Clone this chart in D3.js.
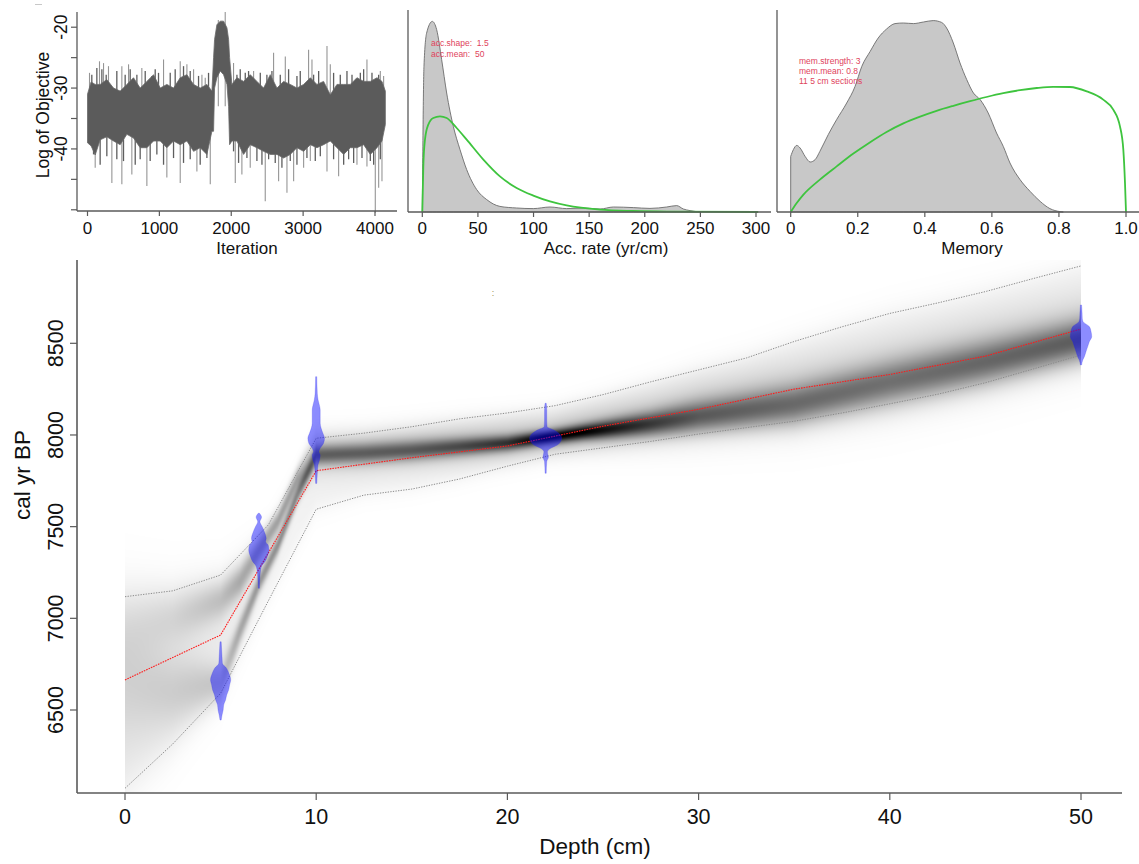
<!DOCTYPE html>
<html><head><meta charset="utf-8">
<script src="https://cdn.jsdelivr.net/npm/d3@7"></script>
<style>
body{margin:0;background:#fff}
svg{display:block}
text{font-family:"Liberation Sans",Arial,Helvetica,sans-serif;fill:#111}
</style></head>
<body><svg id="c" width="1139" height="864"></svg>
<script>
// ---------------- DATA ----------------
// MCMC trace: dense core band (iteration, upper, lower), edge jags and isolated spikes
const traceIter = [0,50,107,176,269,362,455,548,640,733,826,919,1012,1104,1197,1290,1383,1476,1568,1661,1731,1754,1768,1800,1847,1893,1940,1963,1977,2009,2079,2172,2264,2357,2450,2543,2636,2728,2821,2914,3007,3100,3192,3285,3378,3471,3564,3656,3749,3842,3935,4028,4097,4144];
const traceHi = [-31.0,-29.0,-29.4,-29.4,-28.6,-30.0,-30.5,-29.4,-28.3,-30.0,-28.9,-27.8,-30.0,-29.4,-30.0,-28.3,-27.8,-29.4,-30.0,-29.4,-30.5,-25.0,-22.0,-19.6,-19.0,-19.0,-20.1,-22.0,-25.0,-29.4,-28.3,-28.9,-27.8,-28.9,-30.0,-27.8,-30.0,-28.9,-29.4,-30.0,-29.4,-28.3,-29.4,-28.9,-31.1,-29.4,-29.4,-29.4,-28.3,-28.9,-28.9,-28.3,-28.9,-30.5];
const traceLo = [-39.0,-39.5,-41.0,-38.5,-38.0,-38.7,-39.3,-37.6,-38.2,-39.8,-39.8,-38.7,-38.7,-39.8,-38.7,-39.3,-38.7,-40.4,-39.8,-40.9,-37.1,-37.1,-30.0,-28.3,-27.2,-27.8,-29.4,-33.0,-39.3,-38.7,-38.7,-40.9,-39.3,-39.8,-40.4,-40.9,-40.9,-41.5,-40.9,-39.8,-40.4,-39.3,-39.8,-39.3,-38.7,-39.8,-40.9,-39.8,-39.8,-39.3,-40.9,-39.8,-38.7,-36.0];
const jagUpIter = [60,130,200,260,408,524,594,687,803,896,942,988,1151,1220,1336,1429,1545,1684,2079,2125,2195,2241,2404,2496,2566,2682,2798,2914,2960,3146,3216,3424,3517,3610,3680,3796,3842,3958,4051];
const jagUpVal  = [-27.8,-26.7,-26.9,-27.8,-27.2,-27.8,-26.9,-27.8,-27.2,-28.0,-26.9,-27.5,-27.5,-26.9,-26.4,-27.2,-28.0,-27.5,-27.8,-26.9,-27.5,-27.2,-27.5,-27.8,-27.2,-27.8,-26.9,-28.0,-27.2,-27.8,-27.2,-27.5,-27.8,-27.2,-27.8,-27.5,-26.9,-27.5,-27.8];
const jagDownIter = [84,176,269,408,501,664,733,872,965,1058,1197,1336,1429,1568,1661,2032,2102,2218,2357,2427,2520,2612,2705,2821,2914,3053,3169,3239,3424,3564,3633,3703,3819,3935,3981,4074];
const jagDownVal  = [-40.9,-42.6,-41.2,-41.7,-42.0,-42.6,-41.7,-42.0,-40.9,-42.6,-41.5,-42.3,-41.7,-42.6,-41.5,-40.4,-42.3,-41.5,-42.0,-42.6,-41.7,-42.3,-43.1,-42.0,-42.6,-41.5,-42.0,-41.2,-41.7,-42.6,-41.7,-42.3,-41.5,-42.0,-42.6,-41.7];
const spikeUpIter = [28,167,223,292,478,571,756,1058,1290,1383,1476,1592,1638,1820,1916,2032,2311,2589,2752,3076,3123,3332,3378,3888,4004,4074,4120];
const spikeUpVal  = [-27.5,-25.6,-25.9,-26.4,-26.4,-26.1,-26.7,-25.3,-25.6,-26.1,-26.9,-27.8,-28.3,-18.8,-17.5,-25.9,-27.2,-24.2,-24.8,-23.7,-25.3,-23.1,-26.1,-25.3,-28.9,-27.2,-28.0];
const spikeDownIter = [107,339,478,617,826,1104,1290,1522,1708,2056,2148,2264,2473,2659,2775,2868,3007,3100,3332,3494,3749,3888,4004,4051,4097];
const spikeDownVal  = [-43.1,-45.6,-45.8,-44.2,-46.1,-44.7,-45.6,-43.7,-45.8,-45.6,-44.2,-43.1,-48.6,-45.3,-47.2,-45.3,-43.1,-42.0,-43.7,-44.5,-42.6,-42.9,-50.5,-46.4,-45.3];
const iterTicks = [0,1000,2000,3000,4000];
const objTicks = [-20,-25,-30,-35,-40,-45,-50];
const objLabels = [-20,-30,-40];

// Accumulation rate: posterior (grey) and prior (green), relative density
const accRate = [0,1.5,3.9,9,12.9,17.4,21.9,27.9,33.9,39.9,48.9,57.9,69.8,84.8,99.8,114.8,129.8,144.8,159.8,171.8,189.7,204.7,219.7,228.7,234.7,240.7,249.7];
const accPost = [0,72.8,89.5,95.3,91.2,76.2,59.5,42.8,31.2,21.2,11.2,6.2,2.8,2.0,1.7,2.5,1.7,2.0,1.5,2.5,2.2,1.8,2.5,3.2,1.5,0.7,0];
const accPriorRate = [0,0.9,2.4,5.4,9.9,15.9,21.9,30.9,39.9,54.9,69.8,84.8,99.8,114.8,129.8,159.8,189.7,219.7,302];
const accPrior = [0,22.8,36.2,43.7,47.0,47.8,47.0,42.0,36.2,26.2,17.8,12.0,8.2,5.3,3.3,1.2,0.5,0.2,0];
const accTicks = [0,50,100,150,200,250,300];
const accNotes = ["acc.shape:  1.5","acc.mean:  50"];

// Memory: posterior (grey) and prior (green)
const memVal = [0,0.008,0.018,0.028,0.043,0.058,0.073,0.087,0.112,0.137,0.167,0.192,0.212,0.237,0.261,0.286,0.311,0.336,0.366,0.396,0.425,0.45,0.465,0.485,0.505,0.525,0.545,0.565,0.589,0.614,0.634,0.654,0.684,0.714,0.744,0.773,0.803,0.813];
const memPost = [27.8,31.2,33.3,32.0,27.8,25.0,26.2,30.3,38.7,46.2,54.5,62.8,72.8,80.3,87.0,91.5,94.2,94.5,94.2,95.0,95.7,94.8,92.0,84.5,74.5,66.2,59.5,56.2,49.5,39.5,32.8,24.5,16.2,10.3,5.3,1.7,0.2,0];
const memPriorVal = [0,0.018,0.038,0.087,0.137,0.187,0.237,0.286,0.336,0.386,0.435,0.485,0.535,0.584,0.634,0.684,0.734,0.783,0.833,0.883,0.932,0.962,0.982,0.992,0.997,1.0];
const memPrior = [0,4.5,8.7,16.2,22.8,29.2,34.9,40.0,44.3,47.7,50.6,53.1,55.4,57.5,59.4,60.9,62.0,62.6,62.5,60.3,56.2,51.2,42.8,31.2,14.5,0];
const memTicks = [0,0.2,0.4,0.6,0.8,1.0];
const memTickLabels = ["0","0.2","0.4","0.6","0.8","1.0"];
const memNotes = ["mem.strength: 3","mem.mean: 0.8","11 5 cm sections"];

// Age-depth model
const modelDepth = [0,5,10,15,20,25,30,35,40,45,50];
const modelMean  = [6664,6909,7805,7876,7940,8048,8140,8250,8330,8430,8578];
const rangeDepth = [0,2.5,5,7.5,10,12.5,15,17.5,20,22.5,25,27.5,30,32.5,35,37.5,40,42.5,45,47.5,50];
const rangeUpper = [7118,7150,7236,7510,7982,8010,8045,8088,8120,8160,8220,8290,8355,8420,8510,8590,8663,8720,8782,8853,8922];
const rangeLower = [6073,6315,6591,7096,7595,7672,7705,7760,7830,7895,7930,7965,8005,8040,8075,8120,8170,8222,8285,8360,8436];
// greyscale of age-depth probability (two modes + halo) at nodes
const shadeDepth = [0,2.5,5,6,7,8,9,10,12.5,15,17.5,20,22,24,27.5,30,35,40,45,50];
const shadeModeA = [6640,6600,6640,6930,7190,7400,7670,7890,7900,7915,7935,7955,7985,8015,8060,8100,8165,8285,8395,8515];
const shadeSdA   = [200,130,70,50,40,36,36,36,37,37,34,30,26,30,45,60,75,82,82,78];
const shadeDarkA = [0.08,0.1,0.16,0.28,0.35,0.38,0.4,0.4,0.4,0.42,0.48,0.58,0.78,0.75,0.55,0.45,0.4,0.38,0.42,0.46];
const shadeModeB = [6950,7000,7100,7200,7370,7530,7760,7900,7910,7930,7950,7970,7990,8025,8080,8130,8210,8320,8440,8560];
const shadeSdB   = [150,100,70,60,50,40,40,75,75,75,75,75,70,80,100,120,140,150,150,140];
const shadeDarkB = [0.05,0.08,0.18,0.28,0.3,0.32,0.32,0.18,0.18,0.18,0.18,0.18,0.2,0.2,0.18,0.15,0.14,0.13,0.13,0.13];
const shadeHalo  = [0.1,0.1,0.08,0.06,0.05,0.05,0.05,0.06,0.06,0.06,0.06,0.06,0.06,0.06,0.06,0.06,0.06,0.06,0.06,0.06];
// calibrated dates (relative probability by age)
const dateDepths = [5,7,10,22,50];
const date5Age  = [6872,6791,6755,6727,6700,6664,6636,6609,6582,6555,6527,6500,6473,6445];
const date5P    = [0,0.09,0.11,0.38,0.52,0.63,0.56,0.5,0.38,0.31,0.19,0.16,0.09,0];
const date7Age  = [7573,7551,7527,7500,7464,7436,7418,7400,7373,7336,7309,7291,7264,7227,7164];
const date7P    = [0,0.17,0.06,0.21,0.38,0.46,0.42,0.58,0.63,0.52,0.38,0.21,0.11,0.06,0];
const date10Age = [8318,8227,8191,8173,8136,8100,8064,8036,8009,7982,7955,7927,7909,7891,7864,7836,7791,7736];
const date10P   = [0,0.06,0.12,0.17,0.25,0.25,0.25,0.31,0.42,0.52,0.46,0.25,0.17,0.25,0.21,0.11,0.06,0];
const date22Age = [8173,8136,8082,8045,8027,8009,7982,7964,7945,7927,7909,7878,7855,7791];
const date22P   = [0,0.06,0.06,0.09,0.52,0.83,1,0.94,0.73,0.31,0.11,0.17,0.06,0];
const date50Age = [8709,8664,8636,8618,8591,8563,8536,8509,8482,8454,8427,8409,8382];
const date50P   = [0,0.06,0.08,0.13,0.52,0.63,0.67,0.52,0.42,0.31,0.21,0.11,0];
const depthTicks = [0,10,20,30,40,50];
const ageTicks = [6500,7000,7500,8000,8500];

// ---------------- DRAW ----------------
(function(){
const svg = d3.select("#c");
const AX = "#5a5a5a";

function frame(g, x0, x1, y0, y1, sw){
  g.append("line").attr("x1",x0).attr("x2",x0).attr("y1",y0).attr("y2",y1).attr("stroke",AX).attr("stroke-width",sw);
  g.append("line").attr("x1",x0).attr("x2",x1).attr("y1",y1).attr("y2",y1).attr("stroke",AX).attr("stroke-width",sw);
}
function xTicks(g, scale, vals, labels, y, len, fs, ly){
  vals.forEach((v,i)=>{
    g.append("line").attr("x1",scale(v)).attr("x2",scale(v)).attr("y1",y).attr("y2",y+len).attr("stroke",AX).attr("stroke-width",1.2);
    g.append("text").attr("x",scale(v)).attr("y",ly).attr("text-anchor","middle").attr("font-size",fs).text(labels[i]);
  });
}
function vlines(g, xs, ys, base, sx, sy, col, sw){
  g.append("g").selectAll("line").data(xs).join("line")
    .attr("x1",d=>sx(d)).attr("x2",d=>sx(d))
    .attr("y1",sy(base)).attr("y2",(d,i)=>sy(ys[i]))
    .attr("stroke",col).attr("stroke-width",sw);
}

// small grey mark at top-left seen in the reference
svg.append("line").attr("x1",35).attr("x2",42).attr("y1",4.5).attr("y2",4.5).attr("stroke","#c8c8c8").attr("stroke-width",1);

// ----- Panel 1: trace -----
const p1 = svg.append("g");
const iterX = d3.scaleLinear().domain([0,4000]).range([87.5,375]);
const objY = d3.scaleLinear().domain([-17.5,-50.2]).range([12,211]);
vlines(p1, spikeUpIter, spikeUpVal, -33, iterX, objY, "#959595", 1.1);
vlines(p1, spikeDownIter, spikeDownVal, -35, iterX, objY, "#959595", 1.1);
vlines(p1, jagUpIter, jagUpVal, -33, iterX, objY, "#5e5e5e", 1.3);
vlines(p1, jagDownIter, jagDownVal, -35, iterX, objY, "#5e5e5e", 1.3);
const core = d3.area().x((d,i)=>iterX(traceIter[i])).y0((d,i)=>objY(traceLo[i])).y1((d,i)=>objY(traceHi[i]));
p1.append("path").attr("d",core(traceIter)).attr("fill","#5b5b5b").attr("stroke","#6a6a6a").attr("stroke-width",0.8);
frame(p1, 77, 397, 12, 211, 1.3);
xTicks(p1, iterX, iterTicks, iterTicks.map(String), 211, 5, 17, 234);
objTicks.forEach(v=>{
  p1.append("line").attr("x1",71).attr("x2",77).attr("y1",objY(v)).attr("y2",objY(v)).attr("stroke",AX).attr("stroke-width",1.2);
});
objLabels.forEach(v=>{
  p1.append("text").attr("transform",`translate(67,${objY(v)}) rotate(-90)`).attr("text-anchor","middle").attr("font-size",17.5).text(v);
});
p1.append("text").attr("x",247).attr("y",253.5).attr("text-anchor","middle").attr("font-size",17).text("Iteration");
p1.append("text").attr("transform","translate(48.5,115) rotate(-90)").attr("text-anchor","middle").attr("font-size",17.5).text("Log of Objective");

// ----- Panel 2: accumulation rate -----
const p2 = svg.append("g");
const accX = d3.scaleLinear().domain([0,300]).range([422.3,756]);
const dY = d3.scaleLinear().domain([0,100]).range([212,12]);
const accArea = d3.area().curve(d3.curveMonotoneX).x((d,i)=>accX(accRate[i])).y0(dY(0)).y1((d,i)=>dY(accPost[i]));
p2.append("path").attr("d",accArea(accRate)).attr("fill","#c8c8c8").attr("stroke","#6c6c6c").attr("stroke-width",0.9);
const accLine = d3.line().curve(d3.curveMonotoneX).x((d,i)=>accX(accPriorRate[i])).y((d,i)=>dY(accPrior[i]));
p2.append("path").attr("d",accLine(accPriorRate)).attr("fill","none").attr("stroke","#3ec43e").attr("stroke-width",1.8);
frame(p2, 408, 771, 10, 212, 1.3);
xTicks(p2, accX, accTicks, accTicks.map(String), 212, 5, 17, 234);
p2.append("text").attr("x",606).attr("y",253.5).attr("text-anchor","middle").attr("font-size",17).text("Acc. rate (yr/cm)");
accNotes.forEach((t,i)=>p2.append("text").attr("x",431).attr("y",46+i*11).attr("font-size",8.5).style("fill","#e0435c").style("white-space","pre").text(t));

// ----- Panel 3: memory -----
const p3 = svg.append("g");
const memX = d3.scaleLinear().domain([0,1]).range([790.7,1126]);
const memArea = d3.area().curve(d3.curveMonotoneX).x((d,i)=>memX(memVal[i])).y0(dY(0)).y1((d,i)=>dY(memPost[i]));
p3.append("path").attr("d",memArea(memVal)).attr("fill","#c8c8c8").attr("stroke","#6c6c6c").attr("stroke-width",0.9);
const memLine = d3.line().curve(d3.curveMonotoneX).x((d,i)=>memX(memPriorVal[i])).y((d,i)=>dY(memPrior[i]));
p3.append("path").attr("d",memLine(memPriorVal)).attr("fill","none").attr("stroke","#3ec43e").attr("stroke-width",1.8);
frame(p3, 777, 1139, 10, 212, 1.3);
xTicks(p3, memX, memTicks, memTickLabels, 212, 5, 17, 234);
p3.append("text").attr("x",972).attr("y",253.5).attr("text-anchor","middle").attr("font-size",17).text("Memory");
memNotes.forEach((t,i)=>p3.append("text").attr("x",799).attr("y",63.5+i*10).attr("font-size",8.5).style("fill","#e0435c").style("white-space","pre").text(t));

// ----- Main panel: age-depth -----
const pm = svg.append("g");
const X = d3.scaleLinear().domain([0,50]).range([125,1081]);
const Y = d3.scaleLinear().domain([6500,8500]).range([710,343.3]);
const pTop = 260, pBottom = 793, pLeft = 77, pRight = 1122;

// greyscale raster
{
  const x0 = Math.round(X(0)), x1 = Math.round(X(50));
  const w = x1 - x0, h = pBottom - pTop;
  const cv = document.createElement("canvas"); cv.width = w; cv.height = h;
  const ctx = cv.getContext("2d"); const im = ctx.createImageData(w,h);
  const f = arr => d3.scaleLinear().domain(shadeDepth).range(arr).clamp(true);
  const fmA=f(shadeModeA), fsA=f(shadeSdA), fdA=f(shadeDarkA), fmB=f(shadeModeB), fsB=f(shadeSdB), fdB=f(shadeDarkB), fh=f(shadeHalo);
  const fU = d3.scaleLinear().domain(rangeDepth).range(rangeUpper);
  const fL = d3.scaleLinear().domain(rangeDepth).range(rangeLower);
  const sig = z => 1/(1+Math.exp(-z));
  for(let px=0;px<w;px++){
    const d = X.invert(x0+px+0.5);
    const mA=fmA(d), sA=fsA(d), dA=fdA(d), mB=fmB(d), sB=fsB(d), dB=fdB(d), dh=fh(d), up=fU(d), lo=fL(d);
    const wh = (up-lo)/12;
    for(let py=0;py<h;py++){
      const a = Y.invert(pTop+py+0.5);
      const zA=(a-mA)/sA, zB=(a-mB)/sB;
      let dark = dA*Math.exp(-0.5*zA*zA) + dB*Math.exp(-0.5*zB*zB) + dh*sig((a-lo)/wh)*sig((up-a)/wh);
      dark = Math.min(1,dark);
      const k = (py*w+px)*4;
      im.data[k]=0; im.data[k+1]=0; im.data[k+2]=0; im.data[k+3]=Math.round(dark*255);
    }
  }
  ctx.putImageData(im,0,0);
  pm.append("image").attr("x",x0).attr("y",pTop).attr("width",w).attr("height",h).attr("href",cv.toDataURL());
}

// 95% range and mean
const rl = arr => d3.line().x((d,i)=>X(rangeDepth[i])).y((d,i)=>Y(arr[i]));
pm.append("path").attr("d",rl(rangeUpper)(rangeDepth)).attr("fill","none").attr("stroke","#8a8a8a").attr("stroke-width",1).attr("stroke-dasharray","1.3,1.3");
pm.append("path").attr("d",rl(rangeLower)(rangeDepth)).attr("fill","none").attr("stroke","#8a8a8a").attr("stroke-width",1).attr("stroke-dasharray","1.3,1.3");
const ml = d3.line().x((d,i)=>X(modelDepth[i])).y((d,i)=>Y(modelMean[i]));
pm.append("path").attr("d",ml(modelDepth)).attr("fill","none").attr("stroke","#ff1a1a").attr("stroke-width",1.1).attr("stroke-dasharray","1.6,1");

// dates
const W = d3.scaleLinear().domain([0,1]).range([0,16]);
const dates = [[date5Age,date5P],[date7Age,date7P],[date10Age,date10P],[date22Age,date22P],[date50Age,date50P]];
dates.forEach(([ages,p],j)=>{
  const cx = X(dateDepths[j]);
  const hw = (v,i)=> (i===0||i===ages.length-1)? 0.6 : Math.max(1.1, W(v));
  const ar = d3.area().curve(d3.curveMonotoneY).y((d,i)=>Y(ages[i])).x0((d,i)=>cx-hw(p[i],i)).x1((d,i)=>cx+hw(p[i],i));
  pm.append("path").attr("d",ar(ages)).attr("fill","rgba(10,10,255,0.47)").attr("stroke","rgba(40,40,230,0.35)").attr("stroke-width",0.6);
});

// axes
frame(pm, pLeft, pRight, pTop, pBottom, 1.6);
xTicks(pm, X, depthTicks, depthTicks.map(String), pBottom, 7, 21.5, 824);
ageTicks.forEach(v=>{
  pm.append("line").attr("x1",pLeft-7).attr("x2",pLeft).attr("y1",Y(v)).attr("y2",Y(v)).attr("stroke",AX).attr("stroke-width",1.2);
  pm.append("text").attr("transform",`translate(63,${Y(v)}) rotate(-90)`).attr("text-anchor","middle").attr("font-size",21.5).text(v);
});
pm.append("text").attr("x",595).attr("y",854).attr("text-anchor","middle").attr("font-size",22.5).text("Depth (cm)");
pm.append("text").attr("transform","translate(29.5,475) rotate(-90)").attr("text-anchor","middle").attr("font-size",22.5).text("cal yr BP");
pm.append("text").attr("x",493).attr("y",296).attr("text-anchor","middle").attr("font-size",9).style("fill","#9a8a50").text(":");
})();
</script></body></html>
